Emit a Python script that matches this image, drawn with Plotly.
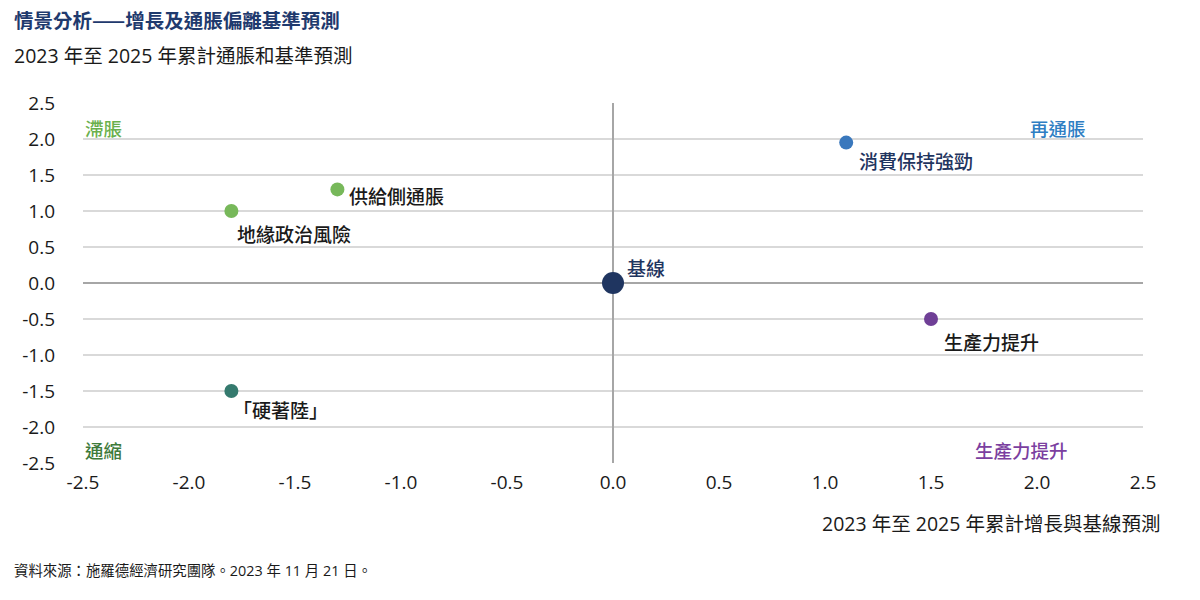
import plotly.graph_objects as go

names = ["基線", "消費保持強勁", "生產力提升", "供給側通脹", "地緣政治風險", "「硬著陸」"]
growth = [0.0, 1.1, 1.5, -1.3, -1.8, -1.8]
inflation = [0.0, 1.95, -0.5, 1.3, 1.0, -1.5]
colors = ["#1f3560", "#3a78bd", "#6f3f96", "#77b85a", "#77b85a", "#357a6e"]
sizes = [22, 14, 14, 14, 14, 14]
label_colors = ["#1f3560", "#1f3560", "#1a1a1a", "#1a1a1a", "#1a1a1a", "#1a1a1a"]
label_dx = [12, 11, 11, 10, 4, 0]
label_dy = [16, -18, -22, -6, -22, -18]

quad_labels = ["滯脹", "再通脹", "通縮", "生產力提升"]
quad_x = [-2.5, 2.24, -2.5, 2.156]
quad_y = [2.15, 2.15, -2.32, -2.32]
quad_anchor = ["left", "right", "left", "right"]
quad_colors = ["#6ab04c", "#2e7ec3", "#3d7a3a", "#7b3fa0"]

tick_vals = [-2.5, -2.0, -1.5, -1.0, -0.5, 0.0, 0.5, 1.0, 1.5, 2.0, 2.5]
tick_text = [f"{v:.1f}" for v in tick_vals]

FONT = "Open Sans, Noto Sans CJK TC, sans-serif"
CJK = "Noto Sans CJK TC"

fig = go.Figure()
fig.add_trace(go.Scatter(
    x=growth, y=inflation, mode="markers",
    marker=dict(color=colors, size=sizes, opacity=1, line=dict(width=0)),
    hoverinfo="text", text=names, showlegend=False,
))

annotations = []
for n, gx, iy, c, dx, dy in zip(names, growth, inflation, label_colors, label_dx, label_dy):
    annotations.append(dict(x=gx, y=iy, xref="x", yref="y", text=n, showarrow=False,
                            xanchor="left", yanchor="middle", xshift=dx, yshift=dy,
                            font=dict(size=19, color=c, family=CJK, weight=500)))
for t, qx, qy, a, c in zip(quad_labels, quad_x, quad_y, quad_anchor, quad_colors):
    annotations.append(dict(x=qx, y=qy, xref="x", yref="y", text=t, showarrow=False,
                            xanchor=a, yanchor="middle",
                            font=dict(size=18.5, color=c, family=CJK, weight=500)))

annotations += [
    dict(x=12, y=20, xref="paper", yref="paper", text="<b>情景分析——增長及通脹偏離基準預測</b>",
         showarrow=False, xanchor="left", yanchor="middle",
         font=dict(size=19.5, color="#1f3a6e", family=CJK)),
    dict(x=12, y=55, xref="paper", yref="paper", text="2023 年至 2025 年累計通脹和基準預測",
         showarrow=False, xanchor="left", yanchor="middle",
         font=dict(size=19.5, color="#1a1a1a", family=FONT)),
    dict(x=1162, y=523, xref="paper", yref="paper", text="2023 年至 2025 年累計增長與基線預測",
         showarrow=False, xanchor="right", yanchor="middle",
         font=dict(size=19.5, color="#1a1a1a", family=FONT)),
    dict(x=12, y=570, xref="paper", yref="paper", text="資料來源：施羅德經濟研究團隊。2023 年 11 月 21 日。",
         showarrow=False, xanchor="left", yanchor="middle",
         font=dict(size=14.4, color="#1a1a1a", family=FONT)),
]
W, H = 1200, 600
L, R, T, B = 83, 57, 103, 137
pw, ph = W - L - R, H - T - B
for a in annotations:
    if a["xref"] == "paper":
        a["x"] = (a["x"] - L) / pw
        a["y"] = 1 - (a["y"] - T) / ph

fig.update_layout(
    width=W, height=H,
    margin=dict(l=L, r=R, t=T, b=B),
    plot_bgcolor="white", paper_bgcolor="white",
    font=dict(family=FONT, size=19, color="#1a1a1a"),
    annotations=annotations,
    xaxis=dict(range=[-2.5, 2.5], tickvals=tick_vals, ticktext=tick_text,
               showgrid=False, zeroline=True, zerolinecolor="#a6a6a6", zerolinewidth=2,
               showline=False, ticks="", ticklabelstandoff=6, fixedrange=True),
    yaxis=dict(range=[-2.5, 2.5], tickvals=tick_vals, ticktext=tick_text,
               showgrid=True, gridcolor="#d9d9d9", gridwidth=2,
               zeroline=True, zerolinecolor="#a6a6a6", zerolinewidth=2,
               showline=False, ticks="", ticklabelstandoff=27, fixedrange=True),
)
fig.write_html("out.html")
